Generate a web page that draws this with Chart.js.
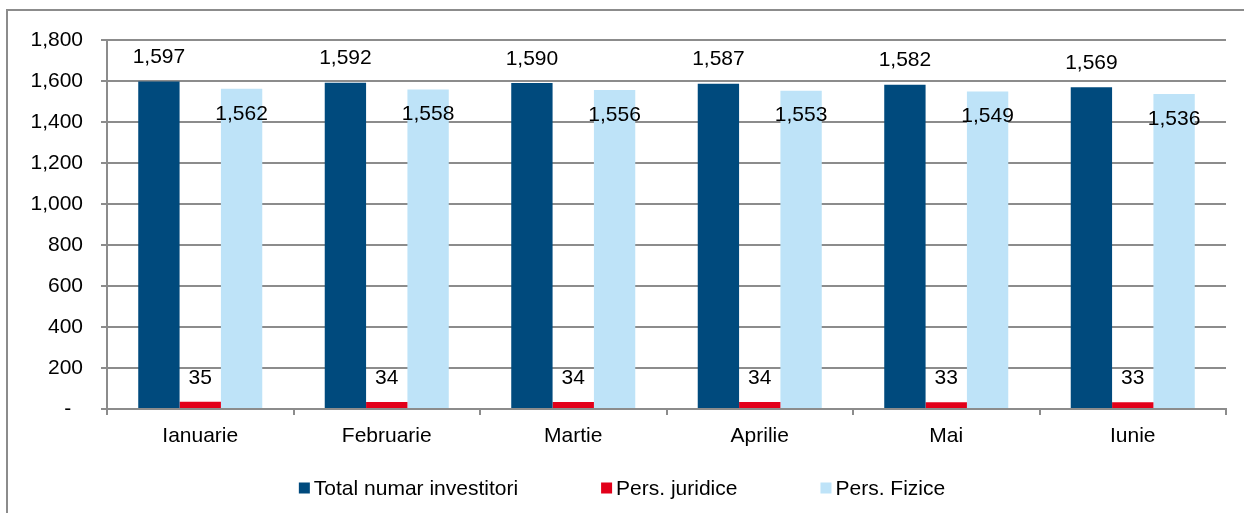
<!DOCTYPE html>
<html>
<head>
<meta charset="utf-8">
<script src="https://cdn.jsdelivr.net/npm/chart.js@4/dist/chart.umd.min.js"></script>
<style>
  html, body { margin: 0; padding: 0; background: #fff; }
  #wrap { width: 1244px; height: 513px; }
</style>
</head>
<body>
<div id="wrap"><canvas id="chart-investitori"></canvas></div>
<script>
const months = ["Ianuarie", "Februarie", "Martie", "Aprilie", "Mai", "Iunie"];
const totalInvestitori = [1597, 1592, 1590, 1587, 1582, 1569];
const persJuridice = [35, 34, 34, 34, 33, 33];
const persFizice = [1562, 1558, 1556, 1553, 1549, 1536];
const seriesNames = ["Total numar investitori", "Pers. juridice", "Pers. Fizice"];
const seriesColors = ["#004A7D", "#E2001A", "#BEE3F8"];

const FONT = '"Liberation Sans", Arial, sans-serif';
const GRID = "#8c8c8c";

// frame around the whole chart, like the spreadsheet chart area
const framePlugin = {
  id: "frame",
  beforeDraw(chart) {
    const ctx = chart.ctx;
    ctx.save();
    ctx.strokeStyle = GRID;
    ctx.lineWidth = 2;
    ctx.strokeRect(7, 10, 1300, 600);
    ctx.restore();
  },
};

// value labels: above the bar, except Pers. Fizice which sits inside the top
const labelPlugin = {
  id: "valueLabels",
  afterDatasetsDraw(chart) {
    const ctx = chart.ctx;
    ctx.save();
    ctx.font = "21px " + FONT;
    ctx.fillStyle = "#000";
    ctx.textAlign = "center";
    ctx.textBaseline = "middle";
    chart.data.datasets.forEach((ds, i) => {
      chart.getDatasetMeta(i).data.forEach((bar, j) => {
        const y = i === 2 ? bar.y + 25 : bar.y - 24;
        ctx.fillText(ds.data[j].toLocaleString("en-US"), bar.x, y);
      });
    });
    ctx.restore();
  },
};

// legend drawn by hand to get the wide item spacing
const legendPlugin = {
  id: "customLegend",
  afterDraw(chart) {
    const ctx = chart.ctx;
    ctx.save();
    ctx.font = "21px " + FONT;
    ctx.textBaseline = "middle";
    ctx.textAlign = "left";
    const box = 11, gap = 4, spacing = 83, y = 488;
    const widths = chart.data.datasets.map(ds => box + gap + ctx.measureText(ds.label).width);
    const total = widths.reduce((a, b) => a + b, 0) + spacing * (widths.length - 1);
    let x = chart.width / 2 - total / 2;
    chart.data.datasets.forEach((ds, i) => {
      ctx.fillStyle = ds.backgroundColor;
      ctx.fillRect(x, y - box / 2, box, box);
      ctx.fillStyle = "#000";
      ctx.fillText(ds.label, x + box + gap, y + 1);
      x += widths[i] + spacing;
    });
    ctx.restore();
  },
};

const ctx = document.getElementById("chart-investitori");

new Chart(ctx, {
  type: "bar",
  data: {
    labels: months,
    datasets: [
      { label: seriesNames[0], data: totalInvestitori, backgroundColor: seriesColors[0] },
      { label: seriesNames[1], data: persJuridice, backgroundColor: seriesColors[1] },
      { label: seriesNames[2], data: persFizice, backgroundColor: seriesColors[2] },
    ],
  },
  options: {
    responsive: true,
    maintainAspectRatio: false,
    animation: false,
    layout: { padding: { top: 40, right: 18, bottom: 0, left: 0 } },
    datasets: {
      bar: { categoryPercentage: 0.665, barPercentage: 1.0, borderWidth: 0 },
    },
    scales: {
      x: {
        grid: {
          offset: true,
          drawOnChartArea: false,
          drawTicks: true,
          tickLength: 6,
          color: GRID,
          lineWidth: 2,
        },
        border: { color: GRID, width: 2 },
        ticks: { color: "#000", font: { family: FONT, size: 21 }, padding: 9 },
        afterFit(scale) { scale.height = 104; },
      },
      y: {
        min: 0,
        max: 1800,
        grid: { color: GRID, lineWidth: 2, tickLength: 6 },
        border: { color: GRID, width: 2 },
        ticks: {
          stepSize: 200,
          color: "#000",
          font: { family: FONT, size: 21 },
          padding: 18,
          callback: v => (v === 0 ? "-  " : v.toLocaleString("en-US")),
        },
        afterFit(scale) { scale.width = 107; },
      },
    },
    plugins: {
      legend: { display: false },
      tooltip: { enabled: false },
    },
  },
  plugins: [framePlugin, labelPlugin, legendPlugin],
});
</script>
</body>
</html>
